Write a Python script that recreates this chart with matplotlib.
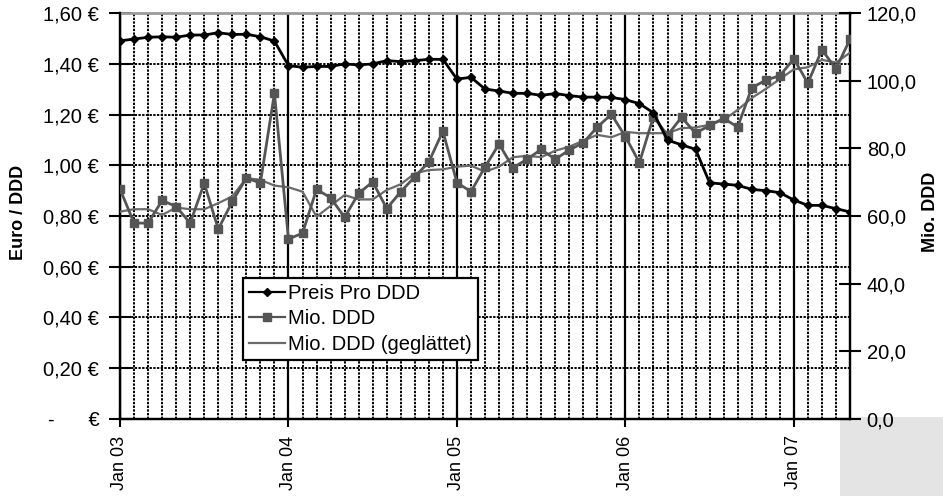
import matplotlib
matplotlib.use("Agg")
import matplotlib.pyplot as plt
from matplotlib.patches import Rectangle
from matplotlib.lines import Line2D

plt.rcParams['font.family'] = ['Liberation Sans', 'DejaVu Sans']

# Monthly data Jan 2003 .. May 2007
months = [f"{m} {y:02d}" for y in (3, 4, 5, 6, 7) for m in
          ["Jan", "Feb", "Mar", "Apr", "May", "Jun", "Jul", "Aug", "Sep", "Oct", "Nov", "Dec"]][:53]

preis_pro_ddd = [
    1.491, 1.498, 1.505, 1.507, 1.505, 1.514, 1.514, 1.523, 1.516, 1.517, 1.507, 1.490,
    1.393, 1.387, 1.390, 1.390, 1.400, 1.396, 1.400, 1.413, 1.409, 1.413, 1.418, 1.418,
    1.340, 1.347, 1.301, 1.293, 1.284, 1.284, 1.276, 1.283, 1.275, 1.269, 1.269, 1.268,
    1.259, 1.243, 1.207, 1.099, 1.081, 1.063, 0.931, 0.926, 0.921, 0.905, 0.900, 0.892,
    0.863, 0.842, 0.842, 0.829, 0.816,
]

mio_ddd = [
    68.0, 57.9, 57.9, 64.6, 62.8, 57.9, 69.7, 56.1, 64.3, 71.2, 69.8, 96.3,
    53.2, 54.9, 67.9, 65.4, 59.6, 66.7, 70.1, 62.2, 67.2, 71.6, 76.0, 85.1,
    69.9, 67.2, 74.5, 81.3, 74.3, 76.8, 79.7, 76.8, 79.5, 81.7, 86.3, 90.1,
    83.5, 75.8, 89.4, 83.9, 89.2, 84.5, 86.8, 88.9, 86.3, 97.9, 100.2, 101.5,
    106.5, 99.3, 109.2, 103.5, 112.3,
]

mio_ddd_geglaettet = [
    61.3, 62.0, 62.0, 60.3, 62.5, 62.0, 62.0, 63.8, 65.8, 71.2, 70.7, 69.0,
    68.5, 67.2, 59.8, 63.0, 66.2, 64.9, 64.9, 67.7, 69.4, 72.6, 73.6, 73.8,
    74.6, 74.9, 73.1, 74.6, 77.4, 77.8, 77.4, 79.3, 80.5, 82.3, 84.0, 83.3,
    84.9, 84.5, 84.5, 84.5, 86.0, 86.2, 87.0, 88.4, 91.4, 94.9, 97.6, 100.5,
    103.4, 104.0, 106.2, 105.4, 108.3,
]

left_ticks = [0.0, 0.2, 0.4, 0.6, 0.8, 1.0, 1.2, 1.4, 1.6]
left_labels = ["-      €", "0,20 €", "0,40 €", "0,60 €", "0,80 €", "1,00 €", "1,20 €", "1,40 €", "1,60 €"]
right_ticks = [0, 20, 40, 60, 80, 100, 120]
right_labels = ["0,0", "20,0", "40,0", "60,0", "80,0", "100,0", "120,0"]
year_labels = ["Jan 03", "Jan 04", "Jan 05", "Jan 06", "Jan 07"]

x = list(range(len(months)))
year_pos = [i for i, m in enumerate(months) if m.startswith("Jan")]

fig = plt.figure(figsize=(9.43, 4.96), dpi=100)
fig.patch.set_facecolor("white")
fig.add_artist(Rectangle((840 / 943, 0), 103 / 943, 79 / 496, transform=fig.transFigure,
                         facecolor="#e4e4e4", edgecolor="none", zorder=-1))

ax = fig.add_axes([120 / 943, 1 - 418.8 / 496, 730 / 943, 405.6 / 496])
ax2 = ax.twinx()

FS = 14.5
FSR = 13

# left axis
ax.set_xlim(0, 52)
ax.set_ylim(0, 1.6)
ax.set_yticks(left_ticks)
ax.set_yticklabels(left_labels, fontsize=FS)
ax.set_xticks(year_pos)
ax.set_xticklabels(year_labels, rotation=90, fontsize=FSR)
ax.set_xticks(x, minor=True)
ax.tick_params(axis="y", direction="inout", length=16, width=1.5, pad=7)
ax.tick_params(axis="x", which="major", direction="inout", length=12, width=1.5, pad=6)
ax.tick_params(axis="x", which="minor", length=0)

ax.grid(True, axis="y", which="major", color="black", linestyle=(0, (1.2, 0.7)), linewidth=1.4)
ax.grid(True, axis="x", which="minor", color="black", linestyle=(0, (1.2, 0.7)), linewidth=1.4)
ax.grid(True, axis="x", which="major", color="black", linestyle="-", linewidth=1.6)
ax.set_axisbelow(True)

for s in ("left", "bottom", "right"):
    ax.spines[s].set_color("black")
    ax.spines[s].set_linewidth(1.6)
ax.spines["top"].set_color("#9a9a9a")
ax.spines["top"].set_linewidth(2)
ax.spines["top"].set_linestyle((0, (2, 1)))

ax.set_ylabel("Euro / DDD", fontsize=FSR, fontweight="bold")
ax.yaxis.set_label_coords(-(120 - 27) / 730, 0.51)

# right axis
ax2.set_ylim(0, 120)
ax2.set_yticks(right_ticks)
ax2.set_yticklabels(right_labels, fontsize=FS)
ax2.tick_params(axis="y", direction="inout", length=16, width=1.5, pad=4)
for s in ("left", "bottom", "right"):
    ax2.spines[s].set_color("black")
    ax2.spines[s].set_linewidth(1.6)
ax2.spines["top"].set_visible(False)
ax2.set_ylabel("Mio. DDD", fontsize=FSR, fontweight="bold", rotation=90)
ax2.yaxis.set_label_coords(1 + (922 - 850) / 730, 0.51)

# data lines
l_smooth, = ax2.plot(x, mio_ddd_geglaettet, color="#6a6a6a", linewidth=1.6, zorder=3)
l_mio, = ax2.plot(x, mio_ddd, color="#555555", linewidth=2.0, marker="s", markersize=6,
                  markerfacecolor="#555555", markeredgecolor="#555555", zorder=4)
l_price, = ax2.plot(x, preis_pro_ddd, color="black", linewidth=2.0, marker="D", markersize=4.5,
                    transform=ax.transData, zorder=5)

handles = [
    Line2D([], [], color="black", linewidth=1.6, marker="D", markersize=4),
    Line2D([], [], color="#555555", linewidth=1.6, marker="s", markersize=5.5),
    Line2D([], [], color="#6a6a6a", linewidth=1.6),
]
leg = ax2.legend(handles, ["Preis Pro DDD", "Mio. DDD", "Mio. DDD (geglättet)"],
                 loc="upper left", bbox_to_anchor=((243 - 120) / 730, (418.8 - 278) / 405.6),
                 borderaxespad=0, fontsize=14.5, frameon=True, fancybox=False, framealpha=1,
                 edgecolor="black", handlelength=1.8, handletextpad=0.15, borderpad=0.3,
                 labelspacing=0.32)
leg.get_frame().set_linewidth(1.6)
leg.set_zorder(10)

fig.savefig("out.png", dpi=100, facecolor="white")
